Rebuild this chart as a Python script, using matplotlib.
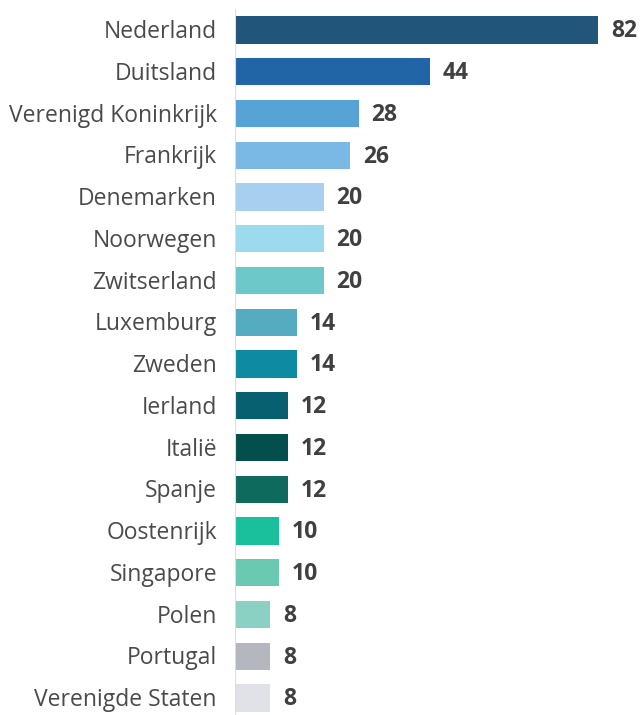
import matplotlib.pyplot as plt

landen = ["Nederland", "Duitsland", "Verenigd Koninkrijk", "Frankrijk", "Denemarken",
          "Noorwegen", "Zwitserland", "Luxemburg", "Zweden", "Ierland", "Italië",
          "Spanje", "Oostenrijk", "Singapore", "Polen", "Portugal", "Verenigde Staten"]
aantal = [82, 44, 28, 26, 20, 20, 20, 14, 14, 12, 12, 12, 10, 10, 8, 8, 8]
kleuren = ["#21557a", "#2165a6", "#58a3d6", "#7ab8e5", "#a9cff0", "#9cdbee", "#6cc8c9",
           "#55acc1", "#0f8aa3", "#07606f", "#034f4b", "#0f6a5e", "#1abf9c", "#69c9b1",
           "#8ad0c3", "#b4b7be", "#e1e2e8"]

W, H = 643, 715
fig = plt.figure(figsize=(W / 100, H / 100), dpi=100)
ax = fig.add_axes([235 / W, 0, (W - 235) / W, 1])

y = list(range(len(landen)))
ax.barh(y, aantal, height=0.65, color=kleuren)

for i, v in enumerate(aantal):
    ax.annotate(str(v), (v, i), xytext=(9, -1), textcoords="offset points",
                va="center", ha="left", fontsize=16.5, fontweight="bold",
                color="#404040", family="Open Sans")
    ax.annotate(landen[i], (0, i), xytext=(-13, -1.5), textcoords="offset points",
                va="center", ha="right", fontsize=16.5, color="#4a4a4a",
                family="Open Sans", annotation_clip=False)

ax.set_xlim(0, (W - 235) / 4.43)
ax.set_ylim(16.407, -0.719)
ax.axvline(0, ymin=0, ymax=1 - 10 / H, color="#dcdde3", lw=1.5)
ax.axis("off")

fig.savefig("out.png", dpi=100)
